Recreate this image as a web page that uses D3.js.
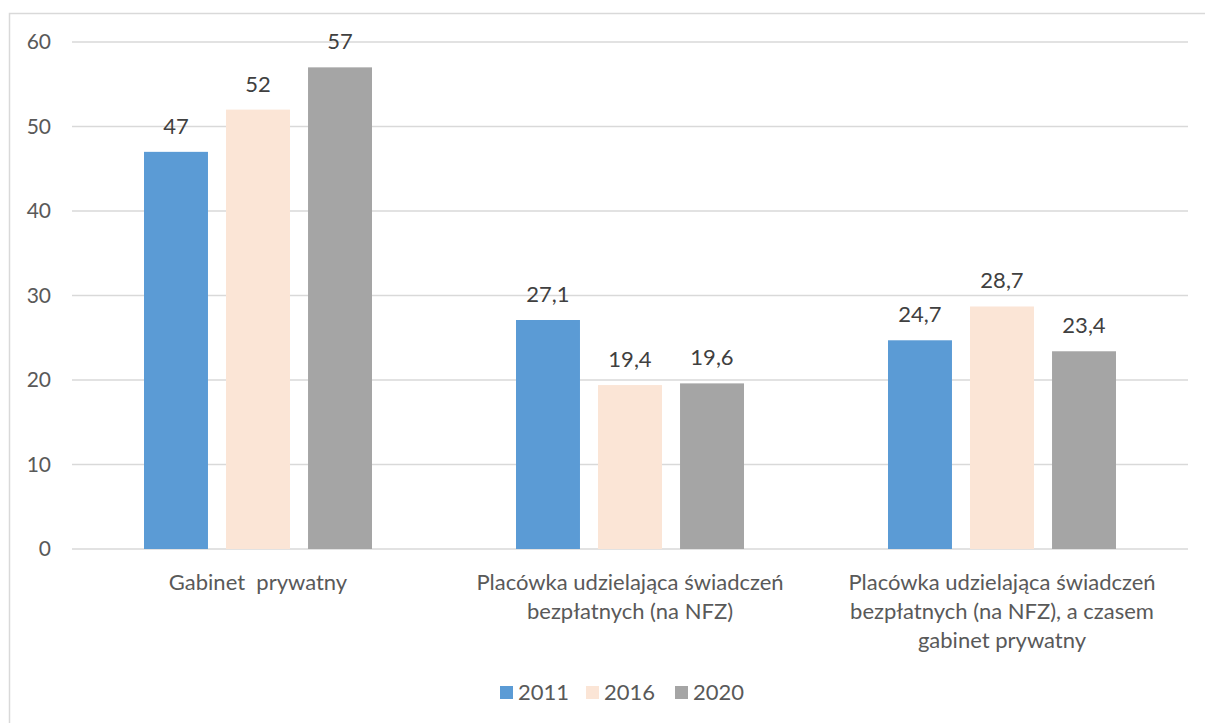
<!DOCTYPE html>
<html><head><meta charset="utf-8">
<script src="https://cdn.jsdelivr.net/npm/d3@7"></script>
<style>body{margin:0;background:#fff;}svg{display:block;font-family:Lato,"Open Sans",sans-serif;}text{white-space:pre;}</style>
</head><body>
<svg id="c" width="1205" height="723"></svg>
<script>
const categories = [
  ["Gabinet  prywatny"],
  ["Placówka udzielająca świadczeń", "bezpłatnych (na NFZ)"],
  ["Placówka udzielająca świadczeń", "bezpłatnych (na NFZ), a czasem", "gabinet prywatny"]
];
const seriesNames = ["2011", "2016", "2020"];
const v2011 = [47, 27.1, 24.7];
const v2016 = [52, 19.4, 28.7];
const v2020 = [57, 19.6, 23.4];
const yTicks = [0, 10, 20, 30, 40, 50, 60];
const colors = ["#5B9BD5", "#FBE5D6", "#A5A5A5"];
const series = [v2011, v2016, v2020];

const svg = d3.select("#c");
svg.append("rect").attr("x", 9.5).attr("y", 13.5).attr("width", 1210).attr("height", 720)
  .attr("fill", "none").attr("stroke", "#D9D9D9").attr("stroke-width", 1.5);

const m = {l: 72, r: 1188, t: 42, b: 549};
const x0 = d3.scaleBand().domain(d3.range(3)).range([m.l, m.r]).paddingInner(0).paddingOuter(0);
const x1 = d3.scaleBand().domain(d3.range(3)).range([72, x0.bandwidth() - 72]).paddingInner(0.22).paddingOuter(0);
const y = d3.scaleLinear().domain([0, 60]).range([m.b, m.t]);

const grid = svg.append("g");
yTicks.forEach(t => {
  grid.append("line").attr("x1", m.l).attr("x2", m.r).attr("y1", y(t)).attr("y2", y(t))
    .attr("stroke", "#D9D9D9").attr("stroke-width", 1.3);
  grid.append("text").attr("x", 51).attr("y", y(t)).attr("dy", "0.35em").attr("text-anchor", "end")
    .attr("fill", "#595959").attr("font-size", 21).text(t);
});

const fmt = v => String(v).replace(".", ",");
series.forEach((vals, si) => {
  vals.forEach((v, ci) => {
    const bx = x0(ci) + x1(si);
    svg.append("rect").attr("x", bx).attr("y", y(v)).attr("width", x1.bandwidth())
      .attr("height", y(0) - y(v)).attr("fill", colors[si]);
    svg.append("text").attr("x", bx + x1.bandwidth() / 2).attr("y", y(v) - 18)
      .attr("text-anchor", "middle").attr("fill", "#404040").attr("font-size", 22).text(fmt(v));
  });
});

categories.forEach((lines, ci) => {
  const t = svg.append("text").attr("text-anchor", "middle").attr("fill", "#595959").attr("font-size", 22);
  lines.forEach((ln, i) => {
    t.append("tspan").attr("x", x0(ci) + x0.bandwidth() / 2).attr("y", 590 + i * 29).text(ln);
  });
});

const lg = svg.append("g");
const lx = [500, 586, 675];
seriesNames.forEach((n, i) => {
  lg.append("rect").attr("x", lx[i]).attr("y", 686).attr("width", 13).attr("height", 13).attr("fill", colors[i]);
  lg.append("text").attr("x", lx[i] + 18).attr("y", 700).attr("fill", "#595959").attr("font-size", 22).text(n);
});
</script>
</body></html>
